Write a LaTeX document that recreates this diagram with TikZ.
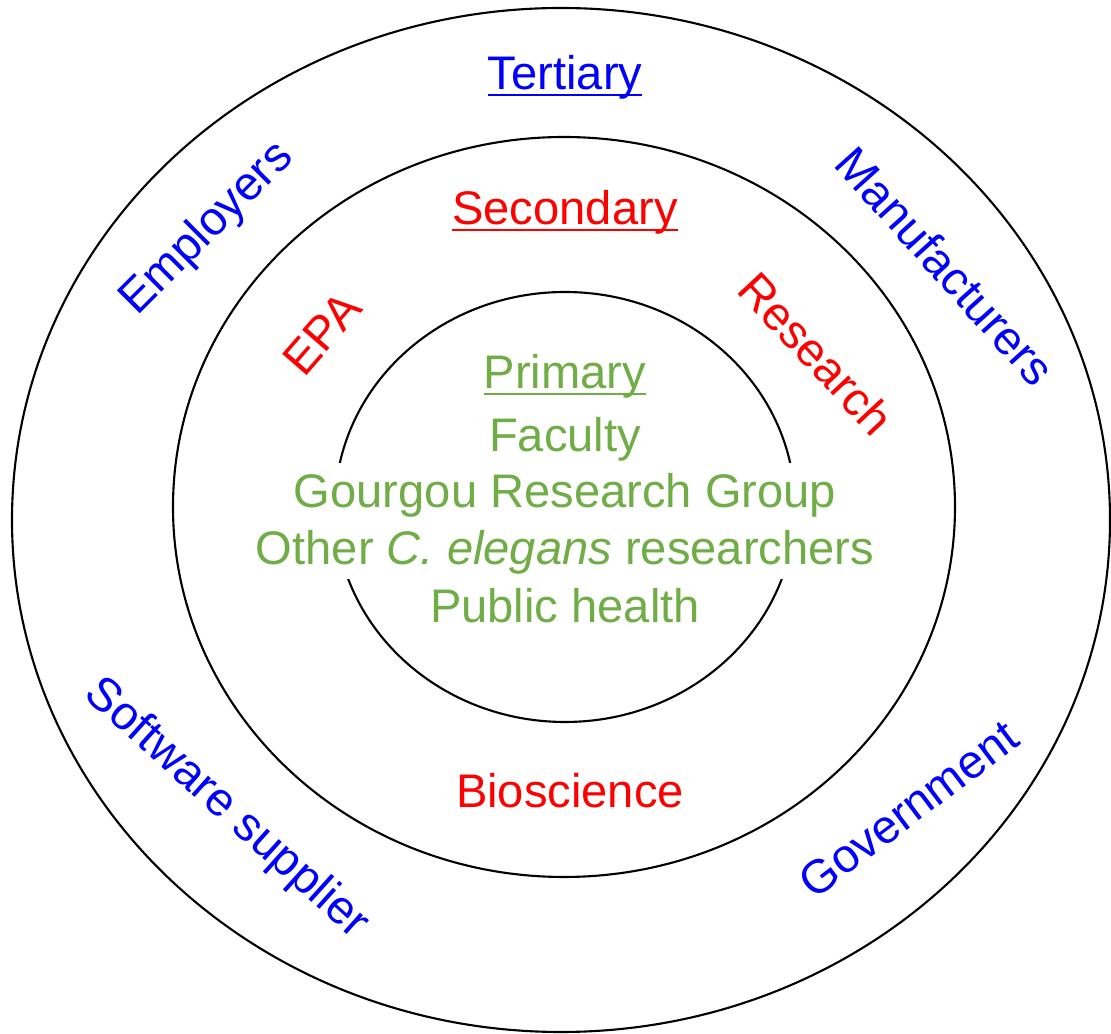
\documentclass[tikz,border=0pt]{standalone}
\usepackage{fontspec}
\setmainfont{Liberation Sans}
\usepackage{tikz}

\definecolor{tblue}{HTML}{0000FF}
\definecolor{sred}{HTML}{FF0000}
\definecolor{pgreen}{HTML}{70AD47}

% underlined heading, rule set a bit under the baseline
\newcommand{\ulword}[1]{\setbox0\hbox{#1}\rlap{\rule[-1.8pt]{\wd0}{0.75pt}}\box0}

\tikzset{
  ring/.style={line width=0.6pt},
  tier/.style={font=\fontsize{13.4}{16.2}\selectfont, inner sep=0pt, anchor=base},
  tertlabel/.style={tier, text=tblue},
  seclabel/.style={tier, text=sred},
  primlabel/.style={tier, text=pgreen},
  % the two wide lines blank out the inner ring behind them
  primwide/.style={primlabel, fill=white, text height=12.9pt},
}

\begin{document}
\begin{tikzpicture}[x=0.01cm,y=-0.01cm]
\useasboundingbox (0,0) rectangle (1111,1034);

% rings
\draw[ring] (561,520) ellipse [x radius=549, y radius=512];
\draw[ring] (564,507) ellipse [x radius=391, y radius=370];
\draw[ring] (565,507) ellipse [x radius=230, y radius=215];

% outer ring
\node[tertlabel] (tertiary) at (565,90) {\ulword{Tertiary}};
\node[tertlabel, rotate=45] (employers) at (216,238) {Employers};
\node[tertlabel, rotate=-48] (manufacturers) at (933,277) {Manufacturers};
\node[tertlabel, rotate=-42] (software) at (218,818) {Software supplier};
\node[tertlabel, rotate=37] (government) at (918,822) {Government};

% middle ring
\node[seclabel] (secondary) at (565,225) {\ulword{Secondary}};
\node[seclabel, rotate=49] (epa) at (334,344) {EPA};
\node[seclabel, rotate=-47] (research) at (804,365) {Research};
\node[seclabel] (bioscience) at (570,808) {Bioscience};

% inner ring
\node[primlabel] (primary) at (565,389) {\ulword{Primary}};
\node[primlabel] (faculty) at (565,452) {Faculty};
\node[primwide, text depth=3.5pt] (gourgou) at (565,508) {Gourgou Research Group};
\node[primwide, text depth=4pt] (celegans) at (565,565) {Other \textit{C. elegans} researchers};
\node[primlabel] (health) at (565,623) {Public health};

\end{tikzpicture}
\end{document}
